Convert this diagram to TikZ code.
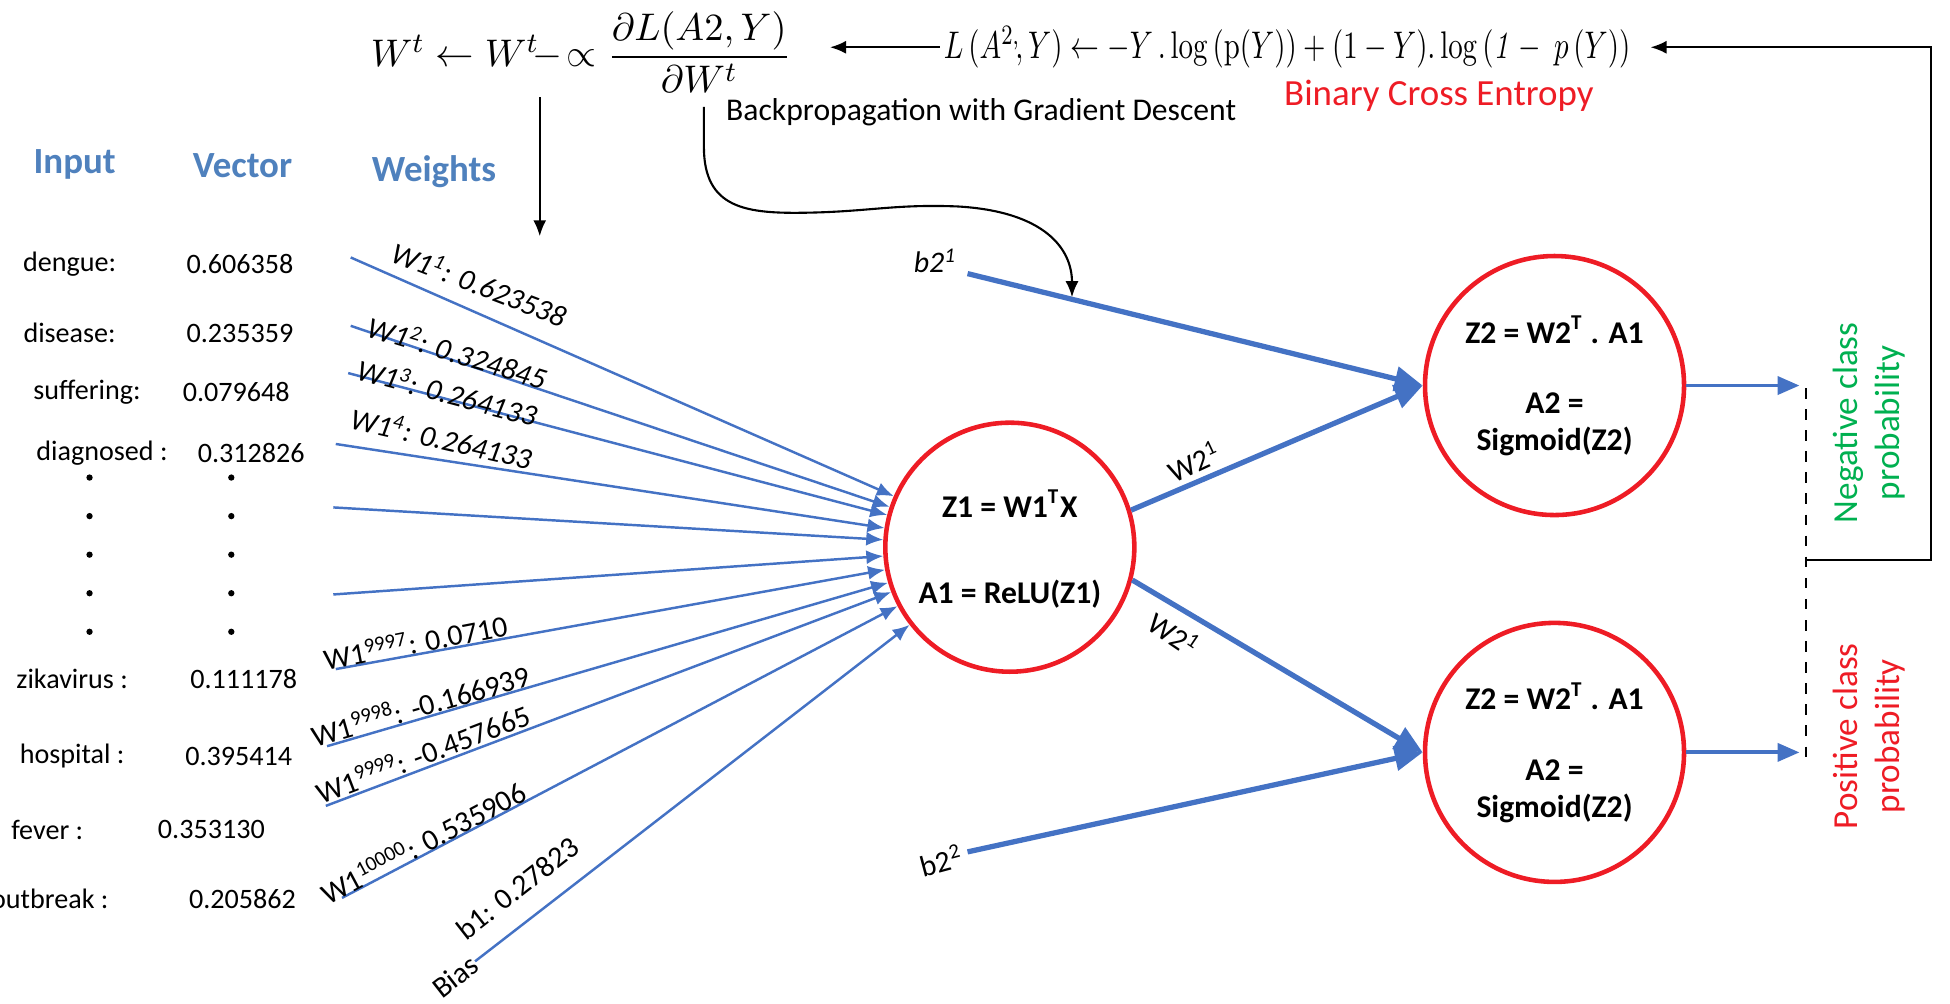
\documentclass[tikz,border=0pt]{standalone}
\usepackage{amsmath}
\usepackage{graphicx}
\usepackage[no-math]{fontspec}
\setmainfont{Carlito}
\usetikzlibrary{positioning, arrows.meta, shapes.geometric}
\definecolor{nnblue}{HTML}{4472C4}
\definecolor{headblue}{HTML}{4F81BD}
\definecolor{nnred}{HTML}{EE1C25}
\definecolor{nngreen}{HTML}{00B050}

\begin{document}
\begin{tikzpicture}[x=0.012436cm, y=-0.012436cm, every node/.style={inner sep=1pt},
  head/.style={font=\fontsize{10.5}{12}\selectfont\bfseries, text=headblue},
  word/.style={font=\fontsize{8}{9}\selectfont},
  wlabel/.style={font=\fontsize{8.5}{10}\selectfont},
  ctext/.style={font=\fontsize{9}{10}\selectfont\bfseries},
  unit/.style={circle, draw=nnred, line width=1.3pt},
  dotmark/.style={circle, fill=black, inner sep=0pt, minimum size=1.8pt},
  inarrow/.style={nnblue, line width=0.7pt, -{Latex[length=1.7mm,width=1.4mm]}},
  bigarrow/.style={nnblue, line width=1.5pt, -{Triangle[length=2.8mm,width=2.4mm]}},
  outarrow/.style={nnblue, line width=1.1pt, -{Triangle[length=2.2mm,width=1.8mm]}},
  backarrow/.style={black, line width=0.6pt, -{Latex[length=1.6mm,width=1.3mm]}}]
  \useasboundingbox (0,0) rectangle (1568,807);

  \node[font=\fontsize{11}{13}\selectfont] (update) at (467,42)
    {$W^{t} \leftarrow W^{t}\!-\!\propto \dfrac{\partial L(A2,Y)}{\partial W^{t}}$};
  \node[font=\fontsize{11}{13}\selectfont] (loss) at (1035,38)
    {\scalebox{0.75}[1]{$L\,(A^{2,}\!, Y) \leftarrow -Y\,.\log\,(\mathrm{p}(Y)) + (1-Y).\log\,(\mathit{1}-\ p\,(Y))$}};
  \node[font=\fontsize{10.5}{12}\selectfont, text=nnred] (bce) at (1157,77) {Binary Cross Entropy};
  \node[font=\fontsize{9}{10}\selectfont] (bp) at (789,90) {Backpropagation with Gradient Descent};

  \node[head] (hin) at (60,132) {Input};
  \node[head] (hvec) at (195,133) {Vector};
  \node[head] (hw) at (349,138) {Weights};

  \foreach \w/\v/\wx/\vx/\yy [count=\i] in {dengue:/0.606358/56/193/212, disease:/0.235359/56/193/268,
      suffering:/0.079648/70/190/315, diagnosed :/0.312826/82/202/364, zikavirus :/0.111178/58/196/546,
      hospital :/0.395414/58/192/608, fever :/0.353130/38/170/667, outbreak :/0.205862/40/195/723}
  {
    \node[word] (in\i) at (\wx,\yy) {\w};
    \node[word] (vec\i) at (\vx,\yy) {\v};
  }
  \foreach \yy [count=\i] in {384,415,446,477,508}
  {
    \node[dotmark] (dw\i) at (72,\yy) {};
    \node[dotmark] (dv\i) at (186,\yy) {};
  }

  \node[unit, minimum size=2.49cm] (hid) at (812,440) {};
  \node[ctext] (z1) at (812,405) {Z1 = W1\textsuperscript{T}X};
  \node[ctext] (a1) at (812,478) {A1 = ReLU(Z1)};

  \foreach \n/\yy in {outA/310, outB/605}
  {
    \node[unit, minimum size=2.59cm] (\n) at (1250,\yy) {};
    \node[ctext] (\n-z) at (1250,\yy-45) {Z2 = W2\textsuperscript{T} . A1};
    \node[ctext] (\n-a) at (1250,\yy+14) {A2 =};
    \node[ctext] (\n-s) at (1250,\yy+45) {Sigmoid(Z2)};
  }

  \foreach \sx/\sy [count=\i] in {282/207, 282/262, 280/300, 270/357, 268/408, 268/478,
      270/538, 263/600, 262/648, 275/722, 382/773}
  {
    \coordinate (src\i) at (\sx,\sy);
    \draw[inarrow] (src\i) -- (hid);
  }

  \node[wlabel, rotate=-21] (w1) at (386,228) {\textit{W1\textsuperscript{1}: 0.623538}};
  \node[wlabel, rotate=-17] (w2) at (368,283) {\textit{W1\textsuperscript{2}: 0.324845}};
  \node[wlabel, rotate=-15] (w3) at (360,315) {\textit{W1\textsuperscript{3}: 0.264133}};
  \node[wlabel, rotate=-13] (w4) at (355,352) {\textit{W1\textsuperscript{4}: 0.264133}};
  \node[wlabel, rotate=11] (w9997) at (334,516) {W1\textsuperscript{9997}: 0.0710};
  \node[wlabel, rotate=16] (w9998) at (338,567) {W1\textsuperscript{9998}: -0.166939};
  \node[wlabel, rotate=21] (w9999) at (340,606) {W1\textsuperscript{9999}: -0.457665};
  \node[wlabel, rotate=28] (w10000) at (340,677) {W1\textsuperscript{10000}: 0.535906};
  \node[wlabel, rotate=38] (wb1) at (416,714) {b1: 0.27823};
  \node[wlabel, rotate=38] (bias) at (366,785) {Bias};

  \coordinate (b2a) at (778,220);
  \coordinate (b2b) at (778,685);
  \node[wlabel] (b2atxt) at (752,210) {\textit{b2\textsuperscript{1}}};
  \node[wlabel, rotate=15] (b2btxt) at (757,692) {b2\textsuperscript{2}};
  \draw[bigarrow] (b2a) -- (outA.west);
  \draw[bigarrow] (hid.17) -- (outA.west);
  \draw[bigarrow] (hid.-15) -- (outB.west);
  \draw[bigarrow] (b2b) -- (outB.west);
  \node[wlabel, rotate=25] (w2a) at (960,371) {W2\textsuperscript{1}};
  \node[wlabel, rotate=-34] (w2b) at (944,510) {W2\textsuperscript{1}};

  \coordinate (negp) at (1447,310);
  \coordinate (posp) at (1447,605);
  \coordinate (dtop) at (1452,312);
  \coordinate (dbot) at (1452,612);
  \coordinate (lpa) at (1452,450);
  \draw[outarrow] (outA.east) -- (negp);
  \draw[outarrow] (outB.east) -- (posp);
  \draw[dashed, line width=0.6pt] (dtop) -- (dbot);
  \node[rotate=90, align=center, text=nngreen, font=\fontsize{10}{12}\selectfont] (neg) at (1503,340)
    {Negative class\\probability};
  \node[rotate=90, align=center, text=nnred, font=\fontsize{10}{12}\selectfont] (pos) at (1503,592)
    {Positive class\\probability};

  \draw[backarrow] (lpa) -- ++(101,0) |- ([xshift=0.16cm]loss.east);
  \draw[backarrow] (loss.west) -- ([xshift=0.35cm]loss.west -| update.east);
  \coordinate (wdown) at (434,190);
  \draw[backarrow] (wdown |- update.south) -- (wdown);
  \coordinate (gd) at (566,86);
  \coordinate (hit) at (862,239);
  \draw[backarrow] (gd) -- (566,118) .. controls (566,168) and (600,172) .. (650,171)
    .. controls (700,170) and (720,164) .. (770,166) .. controls (840,170) and (862,200) .. (hit);
\end{tikzpicture}
\end{document}
